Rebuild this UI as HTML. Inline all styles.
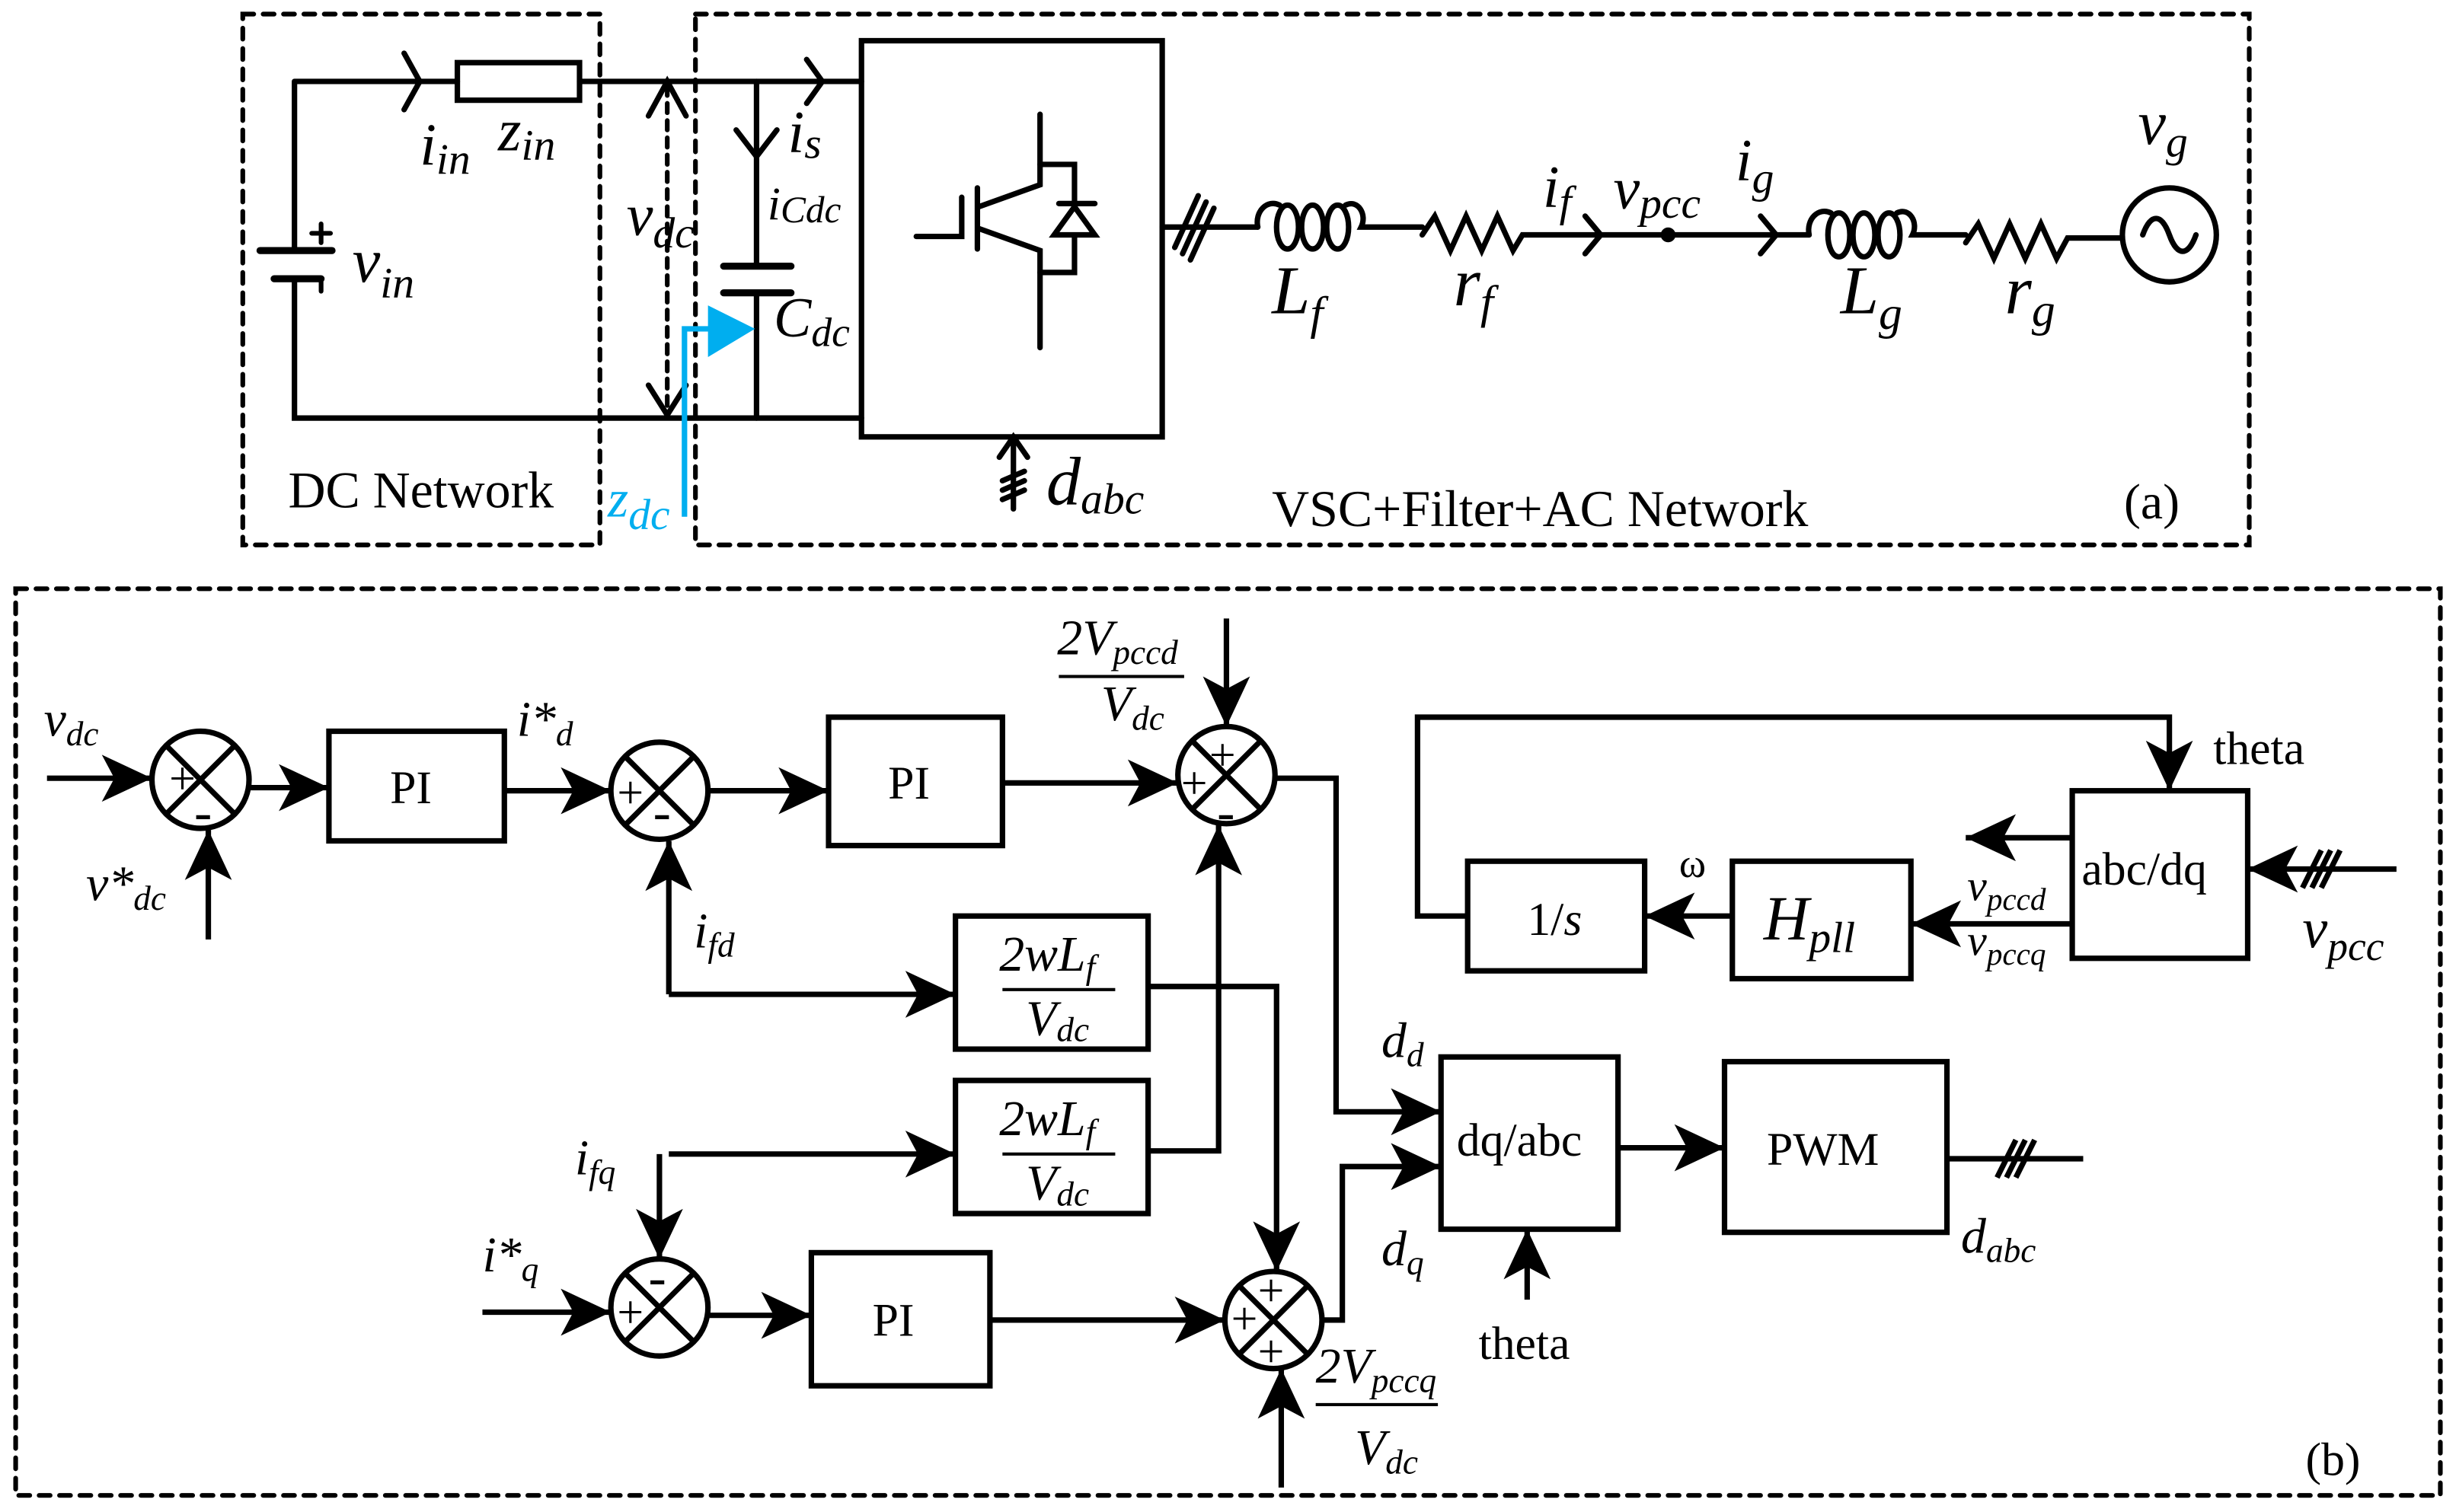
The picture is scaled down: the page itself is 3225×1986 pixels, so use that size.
<!DOCTYPE html>
<html><head><meta charset="utf-8"><style>
html,body{margin:0;padding:0;background:#fff;}
svg{display:block;}
text{font-family:"Liberation Serif",serif;fill:#000;}
.i{font-style:italic;}
</style></head><body>
<svg width="3225" height="1986" viewBox="0 0 1568 965.6" preserveAspectRatio="none" xmlns="http://www.w3.org/2000/svg">
<defs>
<marker id="a" markerUnits="userSpaceOnUse" markerWidth="34" markerHeight="30" refX="32" refY="15" orient="auto"><path d="M0,0 L32,15 L0,30 L8,15 Z" fill="#000"/></marker>
</defs>
<g fill="none" stroke="#000" stroke-width="3.5" stroke-linecap="round">
<g stroke-dasharray="7,6" stroke-width="3">
<rect x="155" y="9" width="228" height="339"/>
<rect x="444" y="9" width="992" height="339"/>
<rect x="10" y="376" width="1548" height="579"/>
</g>
<path d="M188,52 H292 M370,52 H550 M188,52 V160 M188,180 V267 H550"/>
<rect x="292" y="40" width="78" height="24"/>
<path d="M258,34 L268,52 L258,70 M515,38 L525,52 L515,66"/>
<path d="M166,160 H212 M175,178 H205" stroke-width="4.5"/>
<path d="M205,143 V155 M199,149 H211 M205,178 V186" stroke-width="3"/>
<path d="M483,52 V170 M483,187 V267"/>
<path d="M462,170 H505 M462,187 H505" stroke-width="4.5"/>
<path d="M470,83 L483,100 L496,83"/>
<path d="M426,55 V265" stroke-dasharray="6,5" stroke-width="3"/>
<path d="M414,74 L426,52 L438,74 M414,246 L426,265 L438,246"/>
<rect x="550" y="26" width="192" height="253"/>
<path d="M664,73 V118 L625,132 M624,120 V159 M614,126 V151 H585 M625,146 L664,160 V222"/>
<path d="M664,105 H686 V130 M673,150 H699 L686,132 Z M676,130 H699 M686,150 V174 H664"/>
<path d="M647,279 V325 M638,292 L647,279 L656,292 M640,307 L654,301 M640,313 L654,307 M640,319 L654,313"/>
<path d="M742,145 H803 M750,158 L765,125 M755,162 L770,129 M760,166 L775,133"/>
<!-- Lf -->
<path d="M803,145 c-2,-10 6,-18 14,-14"/>
<ellipse cx="822" cy="145" rx="7" ry="14"/><ellipse cx="838" cy="145" rx="7" ry="14"/><ellipse cx="854" cy="145" rx="7" ry="14"/>
<path d="M859,131 c8,-4 14,6 10,14 H908"/>
<path d="M908,150 L916,138 L926,160 L936,138 L946,160 L956,138 L966,160 L972,150 H1155"/>
<path d="M1012,138 L1022,150 L1012,162 M1124,138 L1134,150 L1124,162"/>
<circle cx="1065" cy="150" r="3" fill="#000"/>
<!-- Lg -->
<path d="M1155,150 c-2,-10 6,-18 14,-14"/>
<ellipse cx="1174" cy="150" rx="7" ry="14"/><ellipse cx="1190" cy="150" rx="7" ry="14"/><ellipse cx="1206" cy="150" rx="7" ry="14"/>
<path d="M1211,136 c8,-4 14,6 10,14 H1255"/>
<path d="M1255,155 L1263,143 L1273,165 L1283,143 L1293,165 L1303,143 L1313,165 L1320,152 H1355"/>
<circle cx="1385" cy="150" r="30"/>
<path d="M1368,150 c5,-14 12,-14 17,0 c5,14 12,14 17,0"/>
</g>
<path d="M437,330 V210 H455" fill="none" stroke="#00aeef" stroke-width="3.5"/>
<path d="M452,195 L482,210 L452,228 Z" fill="#00aeef"/>
<text x="268" y="105" font-size="38" class="i">i<tspan font-size="28" dy="6">in</tspan></text>
<text x="318" y="96" font-size="38" class="i">z<tspan font-size="28" dy="6">in</tspan></text>
<text x="225" y="180" font-size="40" class="i">v<tspan font-size="28" dy="10">in</tspan></text>
<text x="400" y="150" font-size="38" class="i">v<tspan font-size="28" dy="8">dc</tspan></text>
<text x="503" y="97" font-size="38" class="i">i<tspan font-size="28" dy="4">s</tspan></text>
<text x="490" y="140" font-size="30" class="i">i<tspan font-size="24" dy="2">Cdc</tspan></text>
<text x="494" y="215" font-size="36" class="i">C<tspan font-size="26" dy="6">dc</tspan></text>
<text x="388" y="330" font-size="34" class="i" style="fill:#00aeef">z<tspan font-size="28" dy="8">dc</tspan></text>
<text x="184" y="324" font-size="33">DC Network</text>
<text x="668" y="322" font-size="44" class="i">d<tspan font-size="28" dy="6">abc</tspan></text>
<text x="812" y="336" font-size="33">VSC+Filter+AC Network</text>
<text x="1356" y="331" font-size="32">(a)</text>
<text x="812" y="200" font-size="44" class="i">L<tspan font-size="30" dy="10">f</tspan></text>
<text x="928" y="195" font-size="44" class="i">r<tspan font-size="30" dy="8">f</tspan></text>
<text x="985" y="132" font-size="38" class="i">i<tspan font-size="28" dy="6">f</tspan></text>
<text x="1030" y="133" font-size="38" class="i">v<tspan font-size="28" dy="6">pcc</tspan></text>
<text x="1108" y="115" font-size="38" class="i">i<tspan font-size="28" dy="8">g</tspan></text>
<text x="1175" y="200" font-size="44" class="i">L<tspan font-size="30" dy="10">g</tspan></text>
<text x="1280" y="200" font-size="44" class="i">r<tspan font-size="30" dy="8">g</tspan></text>
<text x="1365" y="92" font-size="40" class="i">v<tspan font-size="28" dy="8">g</tspan></text>
<g fill="none" stroke="#000" stroke-width="3.5">
<circle cx="128" cy="498" r="31"/><path d="M106,476 L150,520 M150,476 L106,520"/>
<circle cx="421" cy="505" r="31"/><path d="M399,483 L443,527 M443,483 L399,527"/>
<circle cx="783" cy="495" r="31"/><path d="M761,473 L805,517 M805,473 L761,517"/>
<circle cx="421" cy="835" r="31"/><path d="M399,813 L443,857 M443,813 L399,857"/>
<circle cx="813" cy="843" r="31"/><path d="M791,821 L835,865 M835,821 L791,865"/>
<rect x="210" y="467" width="112" height="70"/>
<rect x="529" y="458" width="111" height="82"/>
<rect x="518" y="800" width="114" height="85"/>
<rect x="610" y="585" width="123" height="85"/>
<rect x="610" y="690" width="123" height="85"/>
<rect x="937" y="550" width="113" height="70"/>
<rect x="1106" y="550" width="114" height="75"/>
<rect x="1323" y="505" width="112" height="107"/>
<rect x="920" y="675" width="113" height="110"/>
<rect x="1101" y="678" width="142" height="109"/>
<g marker-end="url(#a)">
<path d="M30,497 H97"/>
<path d="M133,600 V530"/>
<path d="M160,503 H210"/>
<path d="M322,505 H390"/>
<path d="M427,635 V537"/>
<path d="M427,635 H610"/>
<path d="M453,505 H529"/>
<path d="M640,500 H752"/>
<path d="M783,395 V464"/>
<path d="M733,630 H815 V812"/>
<path d="M427,737 H610"/>
<path d="M421,737 V804"/>
<path d="M733,735 H778 V527"/>
<path d="M815,497 H853 V710 H920"/>
<path d="M845,843 H857 V745 H920"/>
<path d="M308,838 H390"/>
<path d="M453,840 H518"/>
<path d="M632,843 H782"/>
<path d="M818,950 V874"/>
<path d="M975,830 V785"/>
<path d="M1033,733 H1101"/>
<path d="M1530,555 H1435"/>
<path d="M1323,535 H1255"/>
<path d="M1323,590 H1220"/>
<path d="M1106,585 H1050"/>
<path d="M937,585 H905 V458 H1385 V505"/>
</g>
<path d="M1243,740 H1330 M1275,752 L1287,728 M1281,752 L1293,728 M1287,752 L1299,728"/>
<path d="M1470,567 L1482,543 M1476,567 L1488,543 M1482,567 L1494,543"/>
<path d="M676,432 H756 M840,897 H918 M640,632 H712 M640,737 H712" stroke-width="2"/>
</g>
<text x="108" y="507" font-size="30">+</text><text x="124" y="530" font-size="34">-</text>
<text x="394" y="516" font-size="30">+</text><text x="417" y="530" font-size="34">-</text>
<text x="772" y="492" font-size="30">+</text><text x="754" y="510" font-size="30">+</text><text x="777" y="530" font-size="34">-</text>
<text x="414" y="827" font-size="34">-</text><text x="394" y="848" font-size="30">+</text>
<text x="803" y="834" font-size="30">+</text><text x="786" y="852" font-size="30">+</text><text x="803" y="873" font-size="30">+</text>
<text x="249" y="513" font-size="30">PI</text>
<text x="567" y="510" font-size="30">PI</text>
<text x="557" y="853" font-size="30">PI</text>
<text x="638" y="620" font-size="32" class="i">2wL<tspan font-size="22" dy="5">f</tspan></text>
<text x="655" y="661" font-size="32" class="i">V<tspan font-size="22" dy="4">dc</tspan></text>
<text x="638" y="725" font-size="32" class="i">2wL<tspan font-size="22" dy="5">f</tspan></text>
<text x="655" y="766" font-size="32" class="i">V<tspan font-size="22" dy="4">dc</tspan></text>
<text x="675" y="418" font-size="32" class="i">2V<tspan font-size="22" dy="6">pccd</tspan></text>
<text x="703" y="460" font-size="32" class="i">V<tspan font-size="22" dy="6">dc</tspan></text>
<text x="840" y="883" font-size="32" class="i">2V<tspan font-size="22" dy="6">pccq</tspan></text>
<text x="865" y="935" font-size="32" class="i">V<tspan font-size="22" dy="6">dc</tspan></text>
<text x="28" y="470" font-size="32" class="i">v<tspan font-size="22" dy="6">dc</tspan></text>
<text x="55" y="575" font-size="32" class="i">v*<tspan font-size="22" dy="6">dc</tspan></text>
<text x="330" y="470" font-size="32" class="i">i*<tspan font-size="22" dy="6">d</tspan></text>
<text x="443" y="605" font-size="32" class="i">i<tspan font-size="22" dy="6">fd</tspan></text>
<text x="367" y="750" font-size="32" class="i">i<tspan font-size="22" dy="6">fq</tspan></text>
<text x="308" y="812" font-size="32" class="i">i*<tspan font-size="22" dy="6">q</tspan></text>
<text x="882" y="675" font-size="32" class="i">d<tspan font-size="22" dy="6">d</tspan></text>
<text x="882" y="808" font-size="32" class="i">d<tspan font-size="22" dy="6">q</tspan></text>
<text x="944" y="868" font-size="30">theta</text>
<text x="930" y="738" font-size="30">dq/abc</text>
<text x="1128" y="744" font-size="30">PWM</text>
<text x="1252" y="800" font-size="32" class="i">d<tspan font-size="22" dy="6">abc</tspan></text>
<text x="975" y="597" font-size="30">1/<tspan class="i">s</tspan></text>
<text x="1126" y="600" font-size="40" class="i">H<tspan font-size="28" dy="8">pll</tspan></text>
<text x="1072" y="560" font-size="26">ω</text>
<text x="1329" y="565" font-size="30">abc/dq</text>
<text x="1413" y="488" font-size="30">theta</text>
<text x="1256" y="575" font-size="28" class="i">v<tspan font-size="20" dy="6">pccd</tspan></text>
<text x="1256" y="610" font-size="28" class="i">v<tspan font-size="20" dy="6">pccq</tspan></text>
<text x="1470" y="605" font-size="36" class="i">v<tspan font-size="26" dy="8">pcc</tspan></text>
<text x="1472" y="942" font-size="30">(b)</text>
</svg>
</body></html>
